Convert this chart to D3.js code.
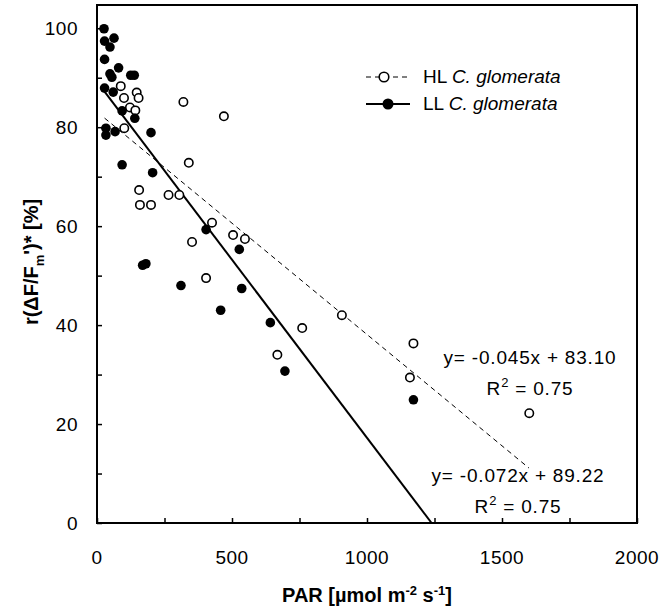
<!DOCTYPE html>
<html>
<head>
<meta charset="utf-8">
<script src="https://cdn.jsdelivr.net/npm/d3@7/dist/d3.min.js"></script>
<style>
  html, body { margin: 0; padding: 0; background: #fff; }
  svg { display: block; font-family: Arial, "Liberation Sans", sans-serif; }
</style>
</head>
<body>
<svg id="chart" width="664" height="611"></svg>
<script>
// PAR (µmol m-2 s-1) and relative effective quantum yield (%)
const hlPAR = [88, 147, 100, 154, 122, 142, 320, 470, 101, 340, 156, 265, 305, 159, 200,
               426, 352, 504, 548, 404, 760, 668, 907, 1172, 1159, 1601];
const hlYield = [88.3, 87.0, 85.9, 85.9, 84.0, 83.4, 85.1, 82.2, 79.8, 72.8, 67.3, 66.3, 66.3, 64.3, 64.3,
                 60.7, 56.8, 58.2, 57.4, 49.5, 39.4, 34.0, 42.0, 36.3, 29.4, 22.2];

const llPAR = [26, 28, 63, 48, 28, 80, 48, 55, 125, 138, 28, 60, 93, 140, 33, 33, 67, 200,
               93, 206, 404, 527, 169, 181, 311, 536, 458, 642, 696, 1172];
const llYield = [99.9, 97.4, 98.0, 96.2, 93.7, 92.0, 90.8, 90.1, 90.5, 90.5, 87.9, 87.1, 83.3, 81.8,
                 79.8, 78.4, 79.1, 78.9, 72.4, 70.8, 59.3, 55.3, 52.1, 52.4, 48.0, 47.4, 43.0, 40.5, 30.7, 24.9];

// linear fits: slope, intercept, x extent
const hlFit = { slope: -0.045, intercept: 83.10, r2: 0.75, from: 28, to: 1600 };
const llFit = { slope: -0.072, intercept: 89.22, r2: 0.75, from: 28, to: 89.22 / 0.072 };

const xTickLabels = [0, 500, 1000, 1500, 2000];
const yTickLabels = [0, 20, 40, 60, 80, 100];

const svg = d3.select("#chart");
const plotL = 97, plotR = 637, plotT = 5, plotB = 523;

const x = d3.scaleLinear().domain([0, 2000]).range([plotL, plotR]);
const y = d3.scaleLinear().domain([0, 104.7]).range([plotB, plotT]);

// inward ticks
const tickLen = 5;
const xAxis = d3.axisTop(x).tickValues(d3.range(0, 2001, 250)).tickSize(tickLen).tickFormat("");
const yAxis = d3.axisRight(y).tickValues(d3.range(0, 101, 10)).tickSize(tickLen).tickFormat("");

svg.append("g").attr("transform", `translate(0,${plotB})`).call(xAxis)
  .call(g => g.select(".domain").remove())
  .selectAll("line").attr("stroke", "#000").attr("stroke-width", 1.5);
svg.append("g").attr("transform", `translate(${plotL},0)`).call(yAxis)
  .call(g => g.select(".domain").remove())
  .selectAll("line").attr("stroke", "#000").attr("stroke-width", 1.5);

// frame
svg.append("rect")
  .attr("x", plotL).attr("y", plotT)
  .attr("width", plotR - plotL).attr("height", plotB - plotT)
  .attr("fill", "none").attr("stroke", "#000").attr("stroke-width", 2);

// tick labels
svg.append("g").selectAll("text").data(xTickLabels).join("text")
  .attr("x", d => x(d)).attr("y", 564)
  .attr("text-anchor", "middle").attr("font-size", 19).attr("letter-spacing", 0.5)
  .text(d => d);
svg.append("g").selectAll("text").data(yTickLabels).join("text")
  .attr("x", 78).attr("y", d => y(d) + 7)
  .attr("text-anchor", "end").attr("font-size", 19).attr("letter-spacing", 0.5)
  .text(d => d);

// axis titles
const xt = svg.append("text").attr("x", 367).attr("y", 602)
  .attr("text-anchor", "middle").attr("font-size", 20).attr("font-weight", "bold");
xt.append("tspan").text("PAR [µmol m");
xt.append("tspan").attr("dy", -7).attr("font-size", 13).text("-2");
xt.append("tspan").attr("dy", 7).text(" s");
xt.append("tspan").attr("dy", -7).attr("font-size", 13).text("-1");
xt.append("tspan").attr("dy", 7).text("]");

const yt = svg.append("text").attr("transform", "translate(38,262) rotate(-90)")
  .attr("text-anchor", "middle").attr("font-size", 20).attr("font-weight", "bold");
yt.append("tspan").text("r(ΔF/F");
yt.append("tspan").attr("dy", 6).attr("font-size", 13).text("m");
yt.append("tspan").attr("dy", -6).text("')* [%]");

// regression lines
const line = d3.line().x(d => x(d[0])).y(d => y(d[1]));
function fitPts(f) { return [[f.from, f.slope * f.from + f.intercept], [f.to, f.slope * f.to + f.intercept]]; }

svg.append("path").datum(fitPts(hlFit)).attr("d", line)
  .attr("fill", "none").attr("stroke", "#000").attr("stroke-width", 1).attr("stroke-dasharray", "5,4");
svg.append("path").datum(fitPts(llFit)).attr("d", line)
  .attr("fill", "none").attr("stroke", "#000").attr("stroke-width", 2);

// points
const hl = hlPAR.map((p, i) => [p, hlYield[i]]);
const ll = llPAR.map((p, i) => [p, llYield[i]]);

svg.append("g").selectAll("circle").data(hl).join("circle")
  .attr("cx", d => x(d[0])).attr("cy", d => y(d[1])).attr("r", 4.2)
  .attr("fill", "#fff").attr("stroke", "#000").attr("stroke-width", 1.6);
svg.append("g").selectAll("circle").data(ll).join("circle")
  .attr("cx", d => x(d[0])).attr("cy", d => y(d[1])).attr("r", 4.8)
  .attr("fill", "#000");

// legend
const lg = svg.append("g");
lg.append("line").attr("x1", 366).attr("x2", 410).attr("y1", 77).attr("y2", 77)
  .attr("stroke", "#000").attr("stroke-width", 1).attr("stroke-dasharray", "5,4");
lg.append("circle").attr("cx", 384).attr("cy", 77).attr("r", 4.8)
  .attr("fill", "#fff").attr("stroke", "#000").attr("stroke-width", 1.6);
lg.append("line").attr("x1", 366).attr("x2", 410).attr("y1", 104).attr("y2", 104)
  .attr("stroke", "#000").attr("stroke-width", 2);
lg.append("circle").attr("cx", 388).attr("cy", 104).attr("r", 5.5).attr("fill", "#000");

function legendText(yy, prefix) {
  const t = lg.append("text").attr("x", 423).attr("y", yy).attr("font-size", 19);
  t.append("tspan").text(prefix + " ");
  t.append("tspan").attr("font-style", "italic").text("C. glomerata");
}
legendText(83, "HL");
legendText(110, "LL");

// equations
function eq(cx, by, f) {
  const sign = f.intercept >= 0 ? "+" : "-";
  svg.append("text").attr("x", cx).attr("y", by).attr("text-anchor", "middle")
    .attr("font-size", 19).attr("letter-spacing", 0.8)
    .text(`y= ${f.slope.toFixed(3)}x ${sign} ${Math.abs(f.intercept).toFixed(2)}`);
  const r = svg.append("text").attr("x", cx).attr("y", by + 31).attr("text-anchor", "middle")
    .attr("font-size", 19).attr("letter-spacing", 0.8);
  r.append("tspan").text("R");
  r.append("tspan").attr("dy", -8).attr("font-size", 13).text("2");
  r.append("tspan").attr("dy", 8).text(` = ${f.r2.toFixed(2)}`);
}
eq(530, 364, hlFit);
eq(518, 482, llFit);
</script>
</body>
</html>
